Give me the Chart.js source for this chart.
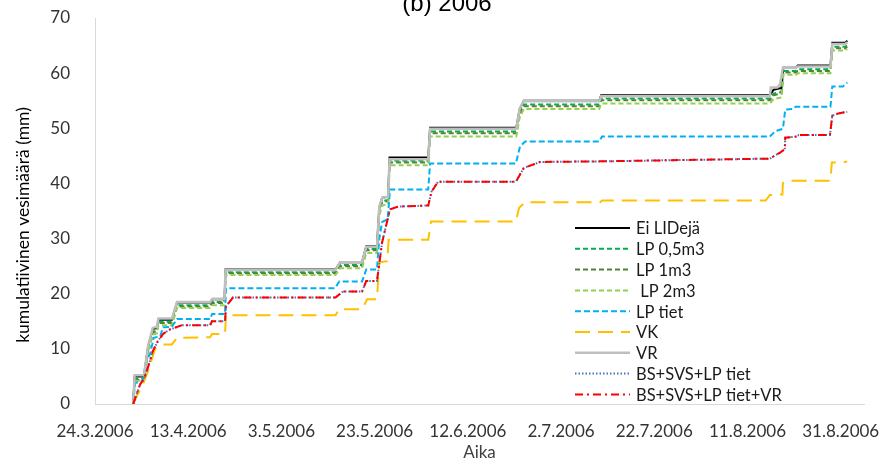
<!DOCTYPE html>
<html>
<head>
<meta charset="utf-8">
<script src="https://cdn.jsdelivr.net/npm/chart.js@4/dist/chart.umd.min.js"></script>
<style>
html,body{margin:0;padding:0;background:#fff;}
#wrap{width:884px;height:461px;}
</style>
</head>
<body>
<div id="wrap"><canvas id="c" width="884" height="461"></canvas></div>
<script>
// x = days since 24.3.2006, y = cumulative water (mm)
const tickLabels = ['24.3.2006','13.4.2006','3.5.2006','23.5.2006','12.6.2006','2.7.2006','22.7.2006','11.8.2006','31.8.2006'];
const seriesNames = ['Ei LIDejä','LP 0,5m3','LP 1m3',' LP 2m3','LP tiet','VK','VR','BS+SVS+LP tiet','BS+SVS+LP tiet+VR'];

const eiLIDeja = [[8.2,0],[8.5,5.0],[10.5,5.0],[11.4,10.4],[12.4,13.6],[13.3,13.8],[13.6,15.3],[16.5,15.3],[17.6,18.4],[24.7,18.4],[25.2,19.0],[27.8,19.0],[28.0,24.4],[51.6,24.4],[52.6,25.7],[57.3,25.7],[58.2,28.6],[60.5,28.6],[61.0,35.6],[61.6,37.4],[62.9,37.6],[63.2,44.7],[71.5,44.7],[71.9,50.1],[90.4,50.1],[91.1,53.4],[91.6,54.3],[92.0,55.0],[108.2,55.0],[108.6,56.0],[144.8,56.0],[145.6,57.0],[147.3,57.3],[147.7,61.0],[150.4,61.0],[150.8,61.4],[157.8,61.4],[158.2,65.5],[161.0,65.5],[161.4,65.9]];
const lp05 = [[8.2,0],[8.5,4.6],[10.5,4.6],[11.4,9.9],[12.4,13.2],[13.3,13.4],[13.6,14.9],[16.5,14.9],[17.6,17.9],[24.7,17.9],[25.2,18.5],[27.8,18.5],[28.0,23.9],[51.6,23.9],[52.6,25.2],[57.3,25.2],[58.2,28.1],[60.5,28.1],[61.0,35.0],[61.6,36.8],[62.9,37.0],[63.2,44.1],[71.5,44.1],[71.9,49.4],[90.4,49.4],[91.1,52.8],[91.6,53.7],[92.0,54.3],[108.2,54.3],[108.6,55.4],[144.8,55.4],[145.6,56.3],[147.3,56.6],[147.7,60.4],[150.4,60.4],[150.8,60.7],[157.8,60.7],[158.2,64.8],[161.0,64.8],[161.4,65.1]];
const lp1 = [[8.2,0],[8.5,4.4],[10.5,4.4],[11.4,9.7],[12.4,13.0],[13.3,13.2],[13.6,14.7],[16.5,14.7],[17.6,17.7],[24.7,17.7],[25.2,18.3],[27.8,18.3],[28.0,23.7],[51.6,23.7],[52.6,25.0],[57.3,25.0],[58.2,27.9],[60.5,27.9],[61.0,34.8],[61.6,36.6],[62.9,36.8],[63.2,43.8],[71.5,43.8],[71.9,49.1],[90.4,49.1],[91.1,52.5],[91.6,53.4],[92.0,54.0],[108.2,54.0],[108.6,55.1],[144.8,55.1],[145.6,56.0],[147.3,56.3],[147.7,60.1],[150.4,60.1],[150.8,60.4],[157.8,60.4],[158.2,64.5],[161.0,64.5],[161.4,64.8]];
const lp2 = [[8.2,0],[8.5,4.2],[10.5,4.2],[11.4,9.3],[12.4,12.6],[13.3,12.8],[13.6,14.3],[16.5,14.3],[17.6,17.4],[24.7,17.4],[25.2,17.9],[27.8,17.9],[28.0,23.4],[51.6,23.4],[52.6,24.6],[57.3,24.6],[58.2,27.4],[60.5,27.4],[61.0,34.2],[61.6,36.0],[62.9,36.2],[63.2,43.3],[71.5,43.3],[71.9,48.5],[90.4,48.5],[91.1,51.9],[91.6,52.8],[92.0,53.5],[108.2,53.5],[108.6,54.5],[144.8,54.5],[145.6,55.3],[147.3,55.6],[147.7,59.7],[150.4,59.7],[150.8,60.0],[157.8,60.0],[158.2,64.1],[161.0,64.1],[161.4,64.4]];
const lpTiet = [[8.2,0],[8.6,3.8],[10.3,4.2],[11.0,8.0],[11.8,9.0],[12.6,12.0],[14.0,12.3],[14.6,13.9],[16.5,14.0],[17.6,15.4],[24.7,15.4],[25.1,16.3],[27.9,16.3],[28.1,21.0],[51.5,21.0],[52.4,22.2],[57.3,22.2],[58.2,24.4],[60.5,24.4],[61.0,30.0],[61.6,33.0],[62.8,33.5],[63.3,38.9],[71.5,38.9],[71.9,43.6],[90.3,43.6],[91.2,46.7],[92.3,47.6],[108.2,47.6],[108.8,48.5],[144.8,48.5],[146.0,49.5],[147.6,49.9],[148.1,53.4],[149.8,53.5],[150.3,53.9],[157.8,53.9],[158.2,57.6],[160.5,57.6],[161.4,58.3]];
const vk = [[8.2,0],[9.0,1.5],[10.3,3.6],[11.4,6.0],[12.9,10.0],[14.6,10.8],[16.5,10.8],[17.6,12.0],[24.7,12.1],[25.1,12.7],[27.9,12.7],[28.1,16.1],[51.6,16.1],[52.4,17.2],[57.3,17.2],[58.4,19.0],[60.5,19.0],[61.0,25.7],[62.7,25.9],[63.0,29.8],[71.5,29.8],[72.1,33.1],[90.3,33.1],[91.0,35.6],[92.3,36.6],[108.4,36.6],[108.8,36.9],[143.9,36.9],[144.8,37.9],[147.5,38.0],[147.6,40.1],[149.1,40.5],[157.8,40.5],[158.1,43.8],[160.5,43.8],[161.4,44.0]];
const vr = [[8.2,0],[8.5,5.2],[10.5,5.2],[11.4,10.6],[12.4,13.8],[13.3,14.0],[13.6,15.5],[16.5,15.5],[17.6,18.5],[24.7,18.5],[25.2,19.1],[27.8,19.1],[28.0,24.3],[51.6,24.3],[52.6,25.7],[57.3,25.7],[58.2,28.5],[60.5,28.5],[61.0,35.8],[61.6,37.4],[62.9,37.6],[63.2,44.4],[71.5,44.4],[71.9,49.9],[90.4,49.9],[91.1,53.5],[91.6,54.4],[92.0,54.9],[108.2,54.9],[108.6,55.8],[144.8,55.8],[145.0,57.4],[146.4,57.4],[147.0,58.0],[147.6,61.0],[150.4,61.0],[150.8,61.2],[157.8,61.2],[158.2,65.3],[161.0,65.3],[161.4,65.6]];
const bsSvsLpTiet = [[8.2,0],[8.8,1.5],[9.7,3.6],[10.5,4.5],[11.5,7.0],[12.4,9.6],[13.5,11.4],[14.6,12.7],[16.0,13.5],[18.7,14.3],[24.7,14.3],[25.1,15.0],[27.9,15.0],[28.1,17.7],[29.6,19.3],[51.6,19.3],[53.2,20.4],[57.3,20.4],[58.2,22.3],[60.5,22.3],[61.6,29.3],[63.3,35.3],[65.0,35.8],[71.5,36.0],[72.2,38.5],[73.6,40.3],[90.3,40.3],[92.0,42.8],[95.5,43.9],[108.4,44.0],[144.8,44.5],[147.0,45.6],[148.0,46.2],[148.1,48.3],[150.6,48.5],[151.0,48.8],[157.7,48.8],[158.2,52.3],[159.5,52.7],[161.4,53.0]];
const bsSvsLpTietVr = [[8.2,0],[8.8,1.5],[9.7,3.6],[10.5,4.5],[11.5,7.0],[12.4,9.6],[13.5,11.4],[14.6,12.7],[16.0,13.5],[18.7,14.3],[24.7,14.3],[25.1,15.0],[27.9,15.0],[28.1,17.7],[29.6,19.3],[51.6,19.3],[53.2,20.4],[57.3,20.4],[58.2,22.3],[60.5,22.3],[61.6,29.3],[63.3,35.3],[65.0,35.8],[71.5,36.0],[72.2,38.5],[73.6,40.3],[90.3,40.3],[92.0,42.8],[95.5,43.9],[108.4,44.0],[144.8,44.5],[147.0,45.6],[148.0,46.2],[148.1,48.3],[150.6,48.5],[151.0,48.8],[157.7,48.8],[158.2,52.3],[159.5,52.7],[161.4,53.0]];

const seriesData = [eiLIDeja, lp05, lp1, lp2, lpTiet, vk, vr, bsSvsLpTiet, bsSvsLpTietVr];
const styles = [
  {c:'#000000', w:2, d:[]},
  {c:'#00B050', w:2, d:[5,3]},
  {c:'#548235', w:2, d:[5,3]},
  {c:'#92D050', w:2, d:[5,3]},
  {c:'#00B0F0', w:2, d:[6,3]},
  {c:'#FFC000', w:2, d:[15,8]},
  {c:'#BFBFBF', w:2.5, d:[]},
  {c:'#4472C4', w:2, d:[1.5,2]},
  {c:'#FF0000', w:2, d:[8,4,2,4]}
];

const datasets = seriesData.map((arr,i)=>({
  label: seriesNames[i],
  data: arr.map(p=>({x:p[0], y:p[1]})),
  borderColor: styles[i].c,
  backgroundColor: styles[i].c,
  borderWidth: styles[i].w,
  borderDash: styles[i].d,
  pointRadius: 0,
  tension: 0,
  fill: false,
  order: seriesData.length - i
}));

const FONT = 'Lato';
const textPlugin = {
  id: 'customText',
  afterDraw(chart){
    const ctx = chart.ctx;
    ctx.save();
    ctx.font = '24px "Liberation Sans", Arial, sans-serif';
    ctx.fillStyle = '#000';
    ctx.textAlign = 'center';
    ctx.textBaseline = 'alphabetic';
    ctx.fillText('(b) 2006', 447, 11);
    ctx.save();
    ctx.translate(23, 225);
    ctx.rotate(-Math.PI/2);
    ctx.textBaseline = 'middle';
    ctx.font = '17.5px ' + FONT;
    ctx.fillStyle = '#000';
    ctx.fillText('kumulatiivinen vesimäärä (mm)', 0, 0);
    ctx.restore();
    ctx.textAlign = 'left';
    ctx.textBaseline = 'middle';
    ctx.font = '16.5px ' + FONT;
    chart.data.datasets.forEach((ds,i)=>{
      const y = 228 + i*20.8;
      ctx.beginPath();
      ctx.strokeStyle = ds.borderColor;
      ctx.lineWidth = ds.borderWidth;
      ctx.setLineDash(ds.borderDash);
      ctx.moveTo(575, y);
      ctx.lineTo(630, y);
      ctx.stroke();
      ctx.setLineDash([]);
      ctx.fillStyle = '#1a1a1a';
      ctx.fillText(ds.label, 636, y + 1);
    });
    ctx.restore();
  }
};

new Chart(document.getElementById('c'), {
  type: 'line',
  data: { datasets },
  plugins: [textPlugin],
  options: {
    responsive: false,
    devicePixelRatio: 1,
    animation: false,
    layout: { padding: { left: 0, top: 18, right: 20, bottom: 0 } },
    plugins: { legend: { display: false }, tooltip: { enabled: false } },
    scales: {
      x: {
        type: 'linear',
        min: 0, max: 165,
        afterFit: s => { s.height = 57; s.paddingLeft = 0; s.paddingRight = 0; },
        afterBuildTicks: s => { s.ticks = tickLabels.map((_,i)=>({value:i*20})); },
        grid: { display: false },
        border: { display: true, color: '#D9D9D9', width: 1 },
        ticks: {
          padding: 9, maxRotation: 0, autoSkip: false,
          font: { family: FONT, size: 17 }, color: '#333333',
          callback: (v) => tickLabels[Math.round(v/20)]
        },
        title: { display: true, text: 'Aika', font: { family: FONT, size: 17, lineHeight: 1 }, color: '#404040', padding: { top: 0, bottom: 0 } }
      },
      y: {
        min: 0, max: 70,
        afterFit: s => { s.width = 95; s.paddingTop = 0; s.paddingBottom = 0; },
        grid: { display: false },
        border: { display: true, color: '#D9D9D9', width: 1 },
        ticks: { stepSize: 10, padding: 17, font: { family: FONT, size: 17 }, color: '#333333' },
        title: { display: false }
      }
    }
  }
});
</script>
</body>
</html>
